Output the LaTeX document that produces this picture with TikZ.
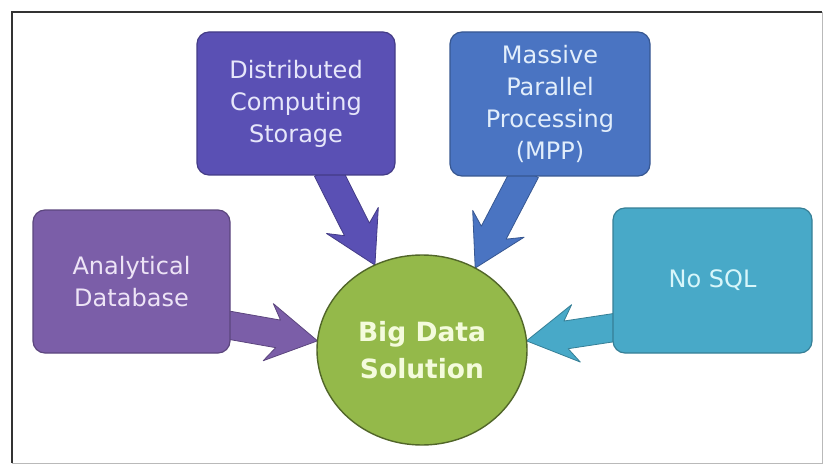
\documentclass[tikz,border=0pt]{standalone}
\usepackage{fontspec}
\setmainfont{DejaVu Sans}
\usetikzlibrary{shapes.geometric,calc,backgrounds}

\definecolor{adfill}{HTML}{7B5EA8}
\definecolor{dsfill}{HTML}{5A50B4}
\definecolor{mppfill}{HTML}{4A74C2}
\definecolor{nosqlfill}{HTML}{48A9C8}
\definecolor{bigfill}{HTML}{94B94A}
\definecolor{adtext}{HTML}{EDE4F6}
\definecolor{dstext}{HTML}{E6E6FA}
\definecolor{mpptext}{HTML}{E2EEFB}
\definecolor{nosqltext}{HTML}{D8F6FA}
\definecolor{bigtext}{HTML}{F4FBDC}

\tikzset{
  topic/.style={draw=#1!75!black, fill=#1, line width=1.2pt,
    rounded corners=12pt, minimum width=198pt, minimum height=143pt,
    inner sep=0pt, outer sep=0pt, align=center,
    font=\fontsize{24}{32}\selectfont},
  hub/.style={ellipse, draw=bigfill!55!black, fill=bigfill, line width=1.4pt,
    minimum width=210pt, minimum height=190pt, inner sep=0pt, outer sep=0pt,
    align=center, text=bigtext, font=\bfseries\fontsize{26.5}{37}\selectfont},
}

% block arrow from #2 to #3, filled with colour #1, barbs swept back
\newcommand{\fatarrow}[3]{%
  \coordinate (fa-h) at ($(#3)!40pt!(#2)$);
  \coordinate (fa-b) at ($(#3)!50pt!(#2)$);
  \filldraw[fill=#1, draw=#1!75!black, line width=0.8pt, line join=round]
    ($(#2)!14pt!90:(#3)$) -- ($(fa-h)!14pt!90:(#3)$) -- ($(fa-b)!29pt!90:(#3)$)
    -- (#3) -- ($(fa-b)!29pt!-90:(#3)$) -- ($(fa-h)!14pt!-90:(#3)$)
    -- ($(#2)!14pt!-90:(#3)$) -- cycle;}

\begin{document}
\begin{tikzpicture}[x=1pt,y=-1pt]
\useasboundingbox (0,0) rectangle (824,465);

% frame
\draw[gray!55, line width=1pt] (822,12) -- (822,463) -- (12,463);
\draw[black!80, line width=2.2pt] (12,463) -- (12,12) -- (822,12);

% topic boxes
\node[topic=adfill, text=adtext, minimum width=197pt] (ad) at (131.5,281.5) {Analytical\\Database};
\node[topic=dsfill, text=dstext] (ds) at (296,103.5) {Distributed\\Computing\\Storage};
\node[topic=mppfill, text=mpptext, minimum width=200pt, minimum height=144pt] (mpp) at (550,104) {Massive\\Parallel\\Processing\\(MPP)};
\node[topic=nosqlfill, text=nosqltext, minimum width=199pt, minimum height=145pt] (nosql) at (712.5,280.5) {No SQL};

% central circle
\node[hub] (big) at (422,350) {Big Data\\Solution};

% arrow start points, just inside the boxes
\coordinate (ad-out) at ($(ad.east)+(-5,43)$);
\coordinate (ds-out) at ($(ds.south)+(31,-5)$);
\coordinate (mpp-out) at ($(mpp.south)+(-24,-5)$);
\coordinate (nosql-out) at ($(nosql.west)+(5,46.5)$);

\begin{scope}[on background layer]
  \fatarrow{adfill}{ad-out}{big.175}
  \fatarrow{dsfill}{ds-out}{big.119}
  \fatarrow{mppfill}{mpp-out}{big.57}
  \fatarrow{nosqlfill}{nosql-out}{big.5}
\end{scope}
\end{tikzpicture}
\end{document}
